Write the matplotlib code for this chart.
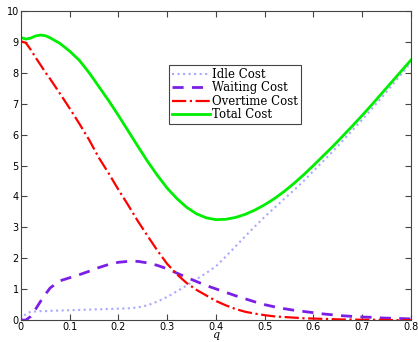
import numpy as np
import matplotlib.pyplot as plt

q = [0.0, 0.01, 0.02, 0.03, 0.04, 0.05, 0.06, 0.08, 0.10, 0.12, 0.14, 0.16, 0.18, 0.20,
     0.22, 0.24, 0.26, 0.28, 0.30, 0.32, 0.34, 0.36, 0.38, 0.40, 0.42, 0.44, 0.46, 0.48,
     0.50, 0.52, 0.54, 0.56, 0.58, 0.60, 0.62, 0.64, 0.66, 0.68, 0.70, 0.72, 0.74, 0.76,
     0.78, 0.80]

idle = [0.0, 0.2, 0.27, 0.28, 0.29, 0.29, 0.3, 0.31, 0.32, 0.33, 0.34, 0.35, 0.36, 0.37,
        0.38, 0.41, 0.48, 0.6, 0.75, 0.93, 1.12, 1.32, 1.52, 1.74, 2.05, 2.38, 2.71, 3.03,
        3.34, 3.63, 3.92, 4.2, 4.5, 4.82, 5.14, 5.46, 5.8, 6.14, 6.48, 6.84, 7.2, 7.57,
        7.95, 8.33]
waiting = [0.0, 0.0, 0.12, 0.35, 0.6, 0.83, 1.04, 1.27, 1.37, 1.47, 1.58, 1.7, 1.8, 1.87,
           1.9, 1.9, 1.85, 1.77, 1.66, 1.52, 1.38, 1.25, 1.12, 1.01, 0.9, 0.79, 0.69, 0.59,
           0.5, 0.43, 0.37, 0.32, 0.28, 0.24, 0.2, 0.17, 0.14, 0.12, 0.1, 0.09, 0.07, 0.06,
           0.05, 0.04]
overtime = [9.02, 8.97, 8.75, 8.5, 8.26, 8.02, 7.8, 7.33, 6.85, 6.35, 5.83, 5.25, 4.75, 4.22,
            3.72, 3.2, 2.72, 2.25, 1.82, 1.48, 1.2, 0.98, 0.8, 0.62, 0.48, 0.36, 0.27, 0.21,
            0.16, 0.12, 0.1, 0.08, 0.06, 0.05, 0.04, 0.03, 0.02, 0.02, 0.01, 0.01, 0.01, 0.0,
            0.0, 0.0]
total = [9.14, 9.09, 9.12, 9.19, 9.22, 9.2, 9.13, 8.95, 8.7, 8.4, 8.0, 7.55, 7.1, 6.62,
         6.12, 5.62, 5.13, 4.68, 4.27, 3.93, 3.65, 3.44, 3.31, 3.25, 3.26, 3.32, 3.42, 3.56,
         3.73, 3.93, 4.16, 4.42, 4.7, 5.0, 5.31, 5.62, 5.95, 6.28, 6.62, 6.97, 7.33, 7.69,
         8.05, 8.41]

fig = plt.figure(figsize=(4.18, 3.42), dpi=100)
ax = fig.add_axes([0.05, 0.064, 0.933, 0.904])

ax.plot(q, idle, ':', color='#a8a8ff', lw=1.5, label='Idle Cost')
ax.plot(q, waiting, '--', color='#7b1fe8', lw=2, dashes=(4, 3), label='Waiting Cost')
ax.plot(q, overtime, '-.', color='#ff0000', lw=1.6, label='Overtime Cost')
ax.plot(q, total, '-', color='#00ee00', lw=2, label='Total Cost')

ax.set_xlim(0, 0.8)
ax.set_ylim(0, 10)
ax.set_xticks(np.arange(0, 0.81, 0.1))
ax.set_xticklabels(['0', '0.1', '0.2', '0.3', '0.4', '0.5', '0.6', '0.7', '0.8'])
ax.set_yticks(range(0, 11))
ax.tick_params(direction='in', top=True, right=True, labelsize=7, length=4,
               color='#444444', pad=1.5)
ax.tick_params(axis='x', pad=1)
for s in ax.spines.values():
    s.set_color('#444444')
ax.set_xlabel('q', family='DejaVu Serif', style='italic', fontsize=8)
ax.xaxis.set_label_coords(0.5, -0.033)

leg = ax.legend(loc='upper left', bbox_to_anchor=(0.365, 0.845), fancybox=False,
                edgecolor='#444444', framealpha=1, handlelength=3.2, handletextpad=0.2,
                borderpad=0.25, labelspacing=0.05, prop={'family': 'DejaVu Serif', 'size': 8.5})
leg.get_frame().set_linewidth(0.8)

fig.savefig('out.png', dpi=100)
